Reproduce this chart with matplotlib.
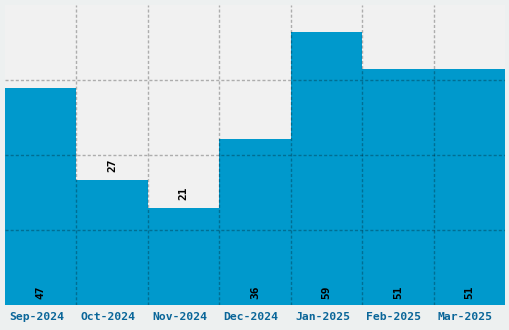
import matplotlib
matplotlib.use("Agg")
import matplotlib.pyplot as plt
import matplotlib.transforms as mtransforms
import numpy as np

categories = ["Sep-2024", "Oct-2024", "Nov-2024", "Dec-2024", "Jan-2025", "Feb-2025", "Mar-2025"]
values = [47, 27, 21, 36, 59, 51, 51]

BAR = "#0099cc"
FIG_BG = "#edf0f0"
AX_BG = "#f1f1f1"
TICK_COLOR = "#0a6699"

fig = plt.figure(figsize=(5.1, 3.3), dpi=100, facecolor=FIG_BG)
ax = fig.add_axes([5 / 510, 25 / 330, 500 / 510, 300 / 330])
ax.set_facecolor(AX_BG)

x = np.arange(len(categories))
ax.bar(x, values, width=1.0, color=BAR, linewidth=0, zorder=1)

ymax = max(values) * 1.1
ax.set_xlim(-0.5, len(categories) - 0.5)
ax.set_ylim(0, ymax)

ax.set_yticks(np.linspace(0, ymax, 5)[1:-1])
ax.set_yticklabels([])
ax.tick_params(axis="y", length=0)
ax.set_xticks(x)
ax.set_xticks(x[:-1] + 0.5, minor=True)
ax.tick_params(axis="x", which="both", length=0, pad=5)
ax.set_xticklabels(categories, fontfamily="DejaVu Sans Mono", fontweight="bold",
                   fontsize=8.2, color=TICK_COLOR)
shift = mtransforms.ScaledTranslation(-4 / 100, 0, fig.dpi_scale_trans)
for lbl in ax.get_xticklabels():
    lbl.set_transform(lbl.get_transform() + shift)

grid_kw = dict(color="black", alpha=0.28, linestyle=(0, (2.2, 1.5)), linewidth=1.0, zorder=2)
ax.grid(axis="y", which="major", **grid_kw)
ax.grid(axis="x", which="minor", **grid_kw)
ax.set_axisbelow(False)
for s in ax.spines.values():
    s.set_visible(False)

for xi, v in zip(x, values):
    if v < 0.5 * max(values):
        ax.annotate(str(v), (xi, v), xytext=(0, 6), textcoords="offset points",
                    rotation=90, ha="center", va="bottom", fontsize=8, fontweight="bold",
                    fontfamily="DejaVu Sans Mono", color="black", zorder=3)
    else:
        ax.annotate(str(v), (xi, 0), xytext=(0, 4.5), textcoords="offset points",
                    rotation=90, ha="center", va="bottom", fontsize=8, fontweight="bold",
                    fontfamily="DejaVu Sans Mono", color="black", zorder=3)

fig.savefig("out.png", dpi=100, facecolor=FIG_BG)
